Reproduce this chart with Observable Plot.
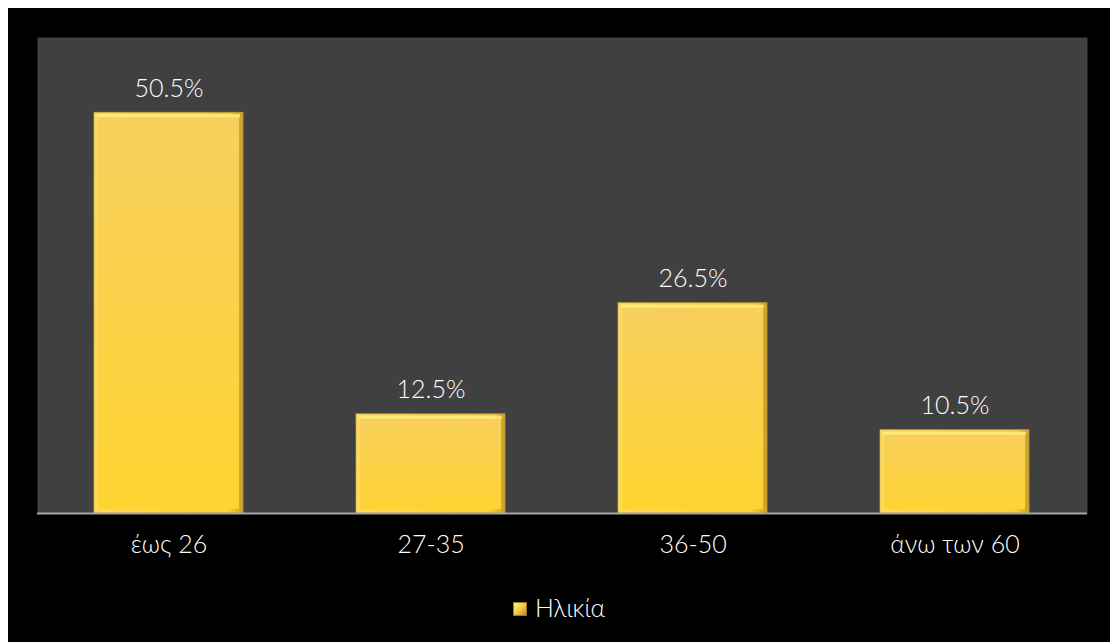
<!DOCTYPE html>
<html>
<head>
<meta charset="utf-8">
<script src="https://cdn.jsdelivr.net/npm/d3@7"></script>
<script src="https://cdn.jsdelivr.net/npm/@observablehq/plot@0.6"></script>
<style>
  html, body { margin: 0; padding: 0; background: #ffffff; }
  #frame { position: absolute; left: 8px; top: 8px; width: 1102px; height: 634px; background: #000000; overflow: hidden; }
  #chart { position: absolute; left: 0; top: 0; }
  #legend { position: absolute; left: 0; top: 584px; width: 1102px; text-align: center; font-family: Lato, "Open Sans", sans-serif; font-weight: 300; font-size: 25px; color: #ffffff; }
  #legend .sw { display: inline-block; width: 14px; height: 14px; margin-right: 8px; vertical-align: 1px;
    background: linear-gradient(135deg, #fff27a 0%, #f2cb48 50%, #b8922a 100%); border: 1px solid #9a7a20; box-sizing: border-box; }
</style>
</head>
<body>
<div id="frame">
  <div id="chart"></div>
  <div id="legend"><span class="sw"></span>Ηλικία</div>
</div>
<script>
const categories = ["έως 26", "27-35", "36-50", "άνω των 60"];
const values = [50.5, 12.5, 26.5, 10.5];
const seriesName = "Ηλικία";

const data = categories.map((c, i) => ({category: c, value: values[i], label: values[i].toFixed(1) + "%"}));

const chart = Plot.plot({
  width: 1102,
  height: 575,
  marginLeft: 29,
  marginRight: 23,
  marginTop: 29,
  marginBottom: 70,
  style: {background: "transparent", color: "#ffffff", fontFamily: "Lato, 'Open Sans', sans-serif", fontSize: "25px", fontWeight: 300},
  x: {domain: categories, paddingInner: 0.43, paddingOuter: 0.215, label: null},
  y: {domain: [0, 60], axis: null},
  marks: [
    Plot.frame({fill: "#404040", stroke: null}),
    Plot.barY(data, {x: "category", y: "value", fill: "url(#barGrad)", stroke: "#a88a2e", strokeWidth: 1}),
    Plot.barY(data, {x: "category", y: "value", fill: "none", stroke: "url(#bevelGrad)", strokeWidth: 4, inset: 2}),
    Plot.tickY(data, {x: "category", y: "value", stroke: "#fff07a", strokeWidth: 3, strokeOpacity: 0.8, dy: 3, inset: 3}),
    Plot.ruleY([0], {stroke: "#a6a6a6", strokeWidth: 2}),
    Plot.text(data, {x: "category", y: "value", text: "label", fill: "#ffffff", fontSize: 25, fontWeight: 300, lineAnchor: "bottom", dy: -16}),
    Plot.axisX({tickSize: 0, tickPadding: 22, fontSize: 25, fontWeight: 300, color: "#ffffff", label: null})
  ]
});

const svgNS = "http://www.w3.org/2000/svg";
const defs = document.createElementNS(svgNS, "defs");
defs.innerHTML = `
  <linearGradient id="barGrad" x1="0" y1="0" x2="0" y2="1">
    <stop offset="0%" stop-color="#f7cf5e"/>
    <stop offset="100%" stop-color="#fed431"/>
  </linearGradient>
  <linearGradient id="bevelGrad" x1="0" y1="0" x2="1" y2="0">
    <stop offset="0%" stop-color="#fbe070" stop-opacity="0.6"/>
    <stop offset="90%" stop-color="#f5cc40" stop-opacity="0.3"/>
    <stop offset="100%" stop-color="#c89e2c" stop-opacity="0.9"/>
  </linearGradient>`;
chart.insertBefore(defs, chart.firstChild);
document.getElementById("chart").appendChild(chart);
</script>
</body>
</html>
